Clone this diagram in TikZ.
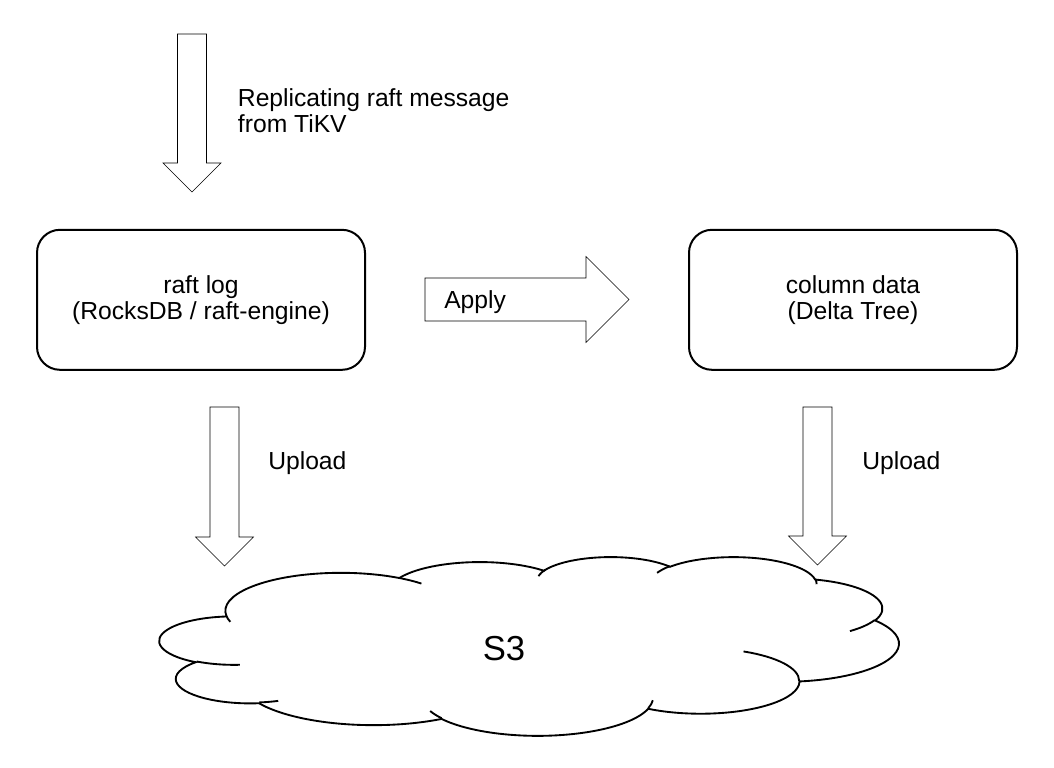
\documentclass[tikz,border=0pt]{standalone}
\usepackage{fontspec}
\setmainfont{Liberation Sans}
\tikzset{
  store/.style={draw, line width=1.5pt, rounded corners=17.25pt,
    minimum width=246pt, minimum height=105pt, align=center},
  % hollow block arrows: #1 half shaft width, #2 half head width (= head length)
  fat down/.style 2 args={line width=1.2pt, to path={
    ([xshift=-#1]\tikztostart) -- ([xshift=-#1,yshift=#2]\tikztotarget)
    -- ([xshift=-#2,yshift=#2]\tikztotarget) -- (\tikztotarget)
    -- ([xshift=#2,yshift=#2]\tikztotarget) -- ([xshift=#1,yshift=#2]\tikztotarget)
    -- ([xshift=#1]\tikztostart) -- cycle}},
  fat right/.style 2 args={line width=1.2pt, to path={
    ([yshift=#1]\tikztostart) -- ([xshift=-#2,yshift=#1]\tikztotarget)
    -- ([xshift=-#2,yshift=#2]\tikztotarget) -- (\tikztotarget)
    -- ([xshift=-#2,yshift=-#2]\tikztotarget) -- ([xshift=-#2,yshift=-#1]\tikztotarget)
    -- ([yshift=-#1]\tikztostart) -- cycle}},
  declare function={vis(\a,\rx,\ry)=\a+mod(atan2(\rx*sin(\a),\ry*cos(\a))-\a+540,360)-180;}
}
% one puff of the cloud outline: x radius, y radius, start angle, sweep
\newcommand\puff[4]{arc[x radius=#1, y radius=#2, start angle={vis(#3,#1,#2)}, end angle={vis(#3+#4,#1,#2)}]}
\begin{document}
\begin{tikzpicture}[x=7.5pt, y=7.5pt]
    \tikzstyle{every node}+=[inner sep=0pt, font=\fontsize{18.5}{19.5}\selectfont]
    \useasboundingbox (0,0) rectangle (105.4,-76.8);
    % cloud
    \begin{scope}[shift={(15.97,-55.65)}, x=12.83pt, y={(0pt,-3.1024pt)}, line width=1.4pt]
    \draw (3.9,14.37) \puff{6.753}{9.19}{-190.4875}{123.7805} \puff{5.333}{7.267}{-144.1024}{89.9452}
        \puff{4.365}{5.945}{-145.8079}{99.723} \puff{4.857}{6.595}{-130.9861}{117.2417}
        \puff{5.333}{7.273}{-78.7089}{109.0269} \puff{6.775}{9.22}{-46.2673}{130.269}
        \puff{5.785}{7.867}{0.625}{114.0333} \puff{6.752}{9.215}{22.4516}{115.1726}
        \puff{7.72}{10.543}{66.2426}{75.711} \puff{4.36}{5.918}{-274.9421}{146.7356}
        \puff{4.345}{5.945}{-246.8285}{152.5189} -- cycle;
    \draw (4.693,26.177) \puff{4.345}{5.945}{86.742}{26.4295}
        (6.928,34.899) \puff{4.36}{5.918}{73.6105}{11.4475}
        (16.478,39.09) \puff{6.752}{9.215}{137.6242}{14.0811}
        (28.827,34.751) \puff{6.752}{9.215}{6.4533}{15.9984}
        (34.129,22.954) \puff{5.785}{7.867}{-70.2924}{70.9174}
        (41.798,15.354) \puff{5.333}{7.273}{30.318}{27.7515}
        (38.324,5.426) \puff{4.857}{6.595}{-13.7443}{14.8589}
        (29.078,3.952) \puff{4.857}{6.595}{-149.1815}{18.1954}
        (22.141,4.72) \puff{4.365}{5.945}{-163.4943}{19.5078}
        (14,5.192) \puff{6.753}{9.19}{-66.707}{12.3194}
        (4.127,15.789) \puff{6.753}{9.19}{157.6544}{11.8582};
    \end{scope}
    \node (s3) [anchor=base, font=\fontsize{26}{30}\selectfont] at (50.4,-66) {S3};
    % stores
    \node (log) [store] at (20.1,-29.98) {raft log\\(RocksDB / raft-engine)};
    \node (col) [store] at (85.3,-29.98) {column data\\(Delta Tree)};
    % arrows
    \coordinate (feed) at (19.2,-3.4);
    \coordinate (feedtip) at (19.2,-19.2);
    \draw (feed) to [fat down={10.875pt}{21.75pt}] (feedtip);
    \node (msg) [anchor=north west, align=left] at (23.77,-8.87) {Replicating raft message\\from TiKV};
    \coordinate (apply) at (42.5,-29.95);
    \coordinate (applytip) at (62.9,-29.95);
    \draw (apply) to [fat right={16.125pt}{32.25pt}] (applytip);
    \node (applytext) [anchor=base west] at (44.4,-30.8) {Apply};
    \coordinate (logup) at (22.45,-40.7);
    \coordinate (loguptip) at (22.45,-56.6);
    \draw (logup) to [fat down={10.875pt}{21.75pt}] (loguptip);
    \node (logtext) [anchor=base west] at (26.8,-46.9) {Upload};
    \coordinate (colup) at (81.75,-40.7);
    \coordinate (coluptip) at (81.75,-56.5);
    \draw (colup) to [fat down={10.875pt}{21.75pt}] (coluptip);
    \node (coltext) [anchor=base west] at (86.2,-46.9) {Upload};
\end{tikzpicture}
\end{document}
